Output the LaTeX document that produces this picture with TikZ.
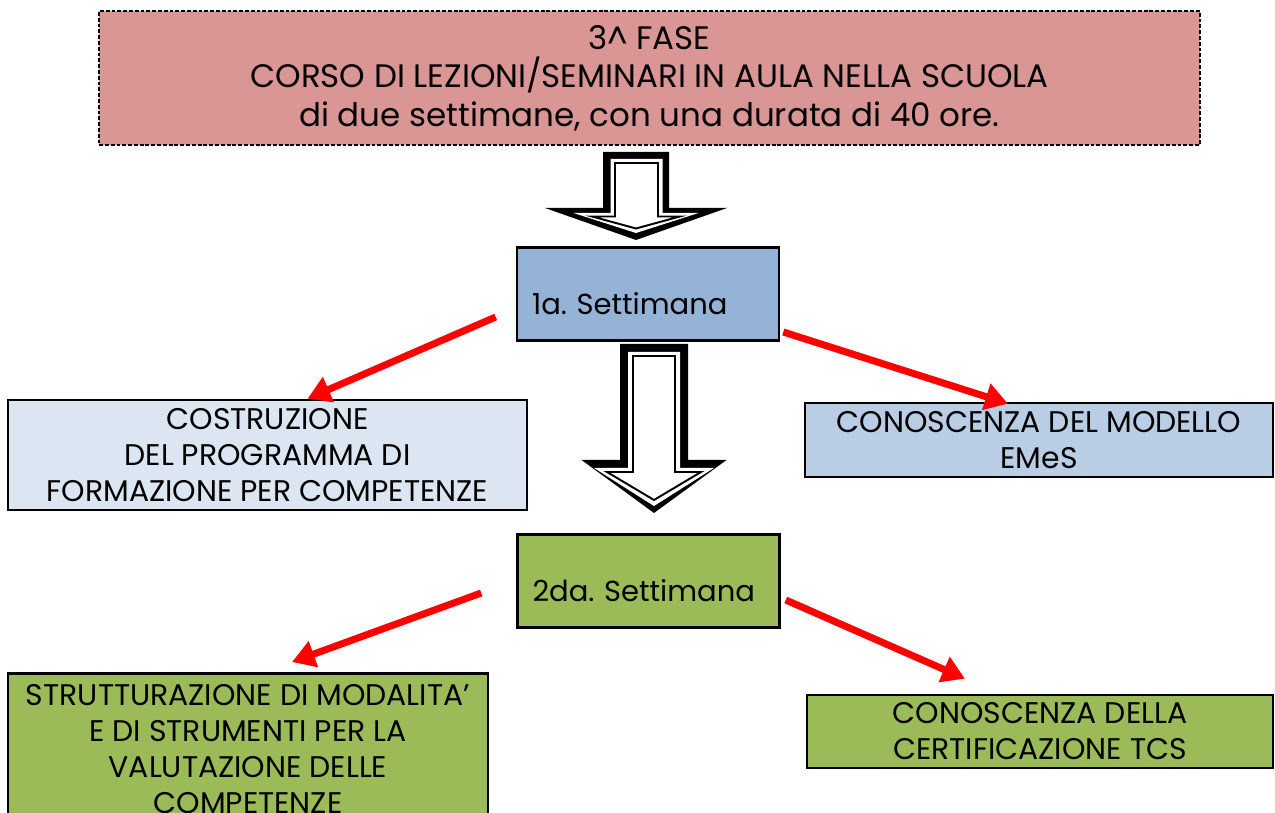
\documentclass[tikz,border=0pt]{standalone}
\usepackage{fontspec}
\setmainfont{Poppins}
\usepackage{xcolor}
\usepackage{tikz}
\usetikzlibrary{positioning, arrows.meta}
\frenchspacing

\definecolor{fasepink}{HTML}{D99694}
\definecolor{weekblue}{HTML}{95B3D7}
\definecolor{paleblue}{HTML}{DCE6F2}
\definecolor{lightblue}{HTML}{B9CDE5}
\definecolor{weekgreen}{HTML}{9BBB59}

\begin{document}
\begin{tikzpicture}[x=0.02cm, y=-0.02cm,
    fase/.style={rectangle, draw, line width=1.1pt, dash pattern=on 2.2pt off 1.1pt, fill=fasepink, minimum width=22.02cm, minimum height=2.68cm, align=center, font=\fontsize{18.5}{21.9}\selectfont},
    week/.style={rectangle, draw, line width=1.5pt, minimum height=1.86cm, text width=4.64cm, inner xsep=0.3cm, align=left, text height=0.84cm, text depth=0pt, font=\fontsize{16.5}{20.5}\selectfont},
    topic/.style={rectangle, draw, line width=1.5pt, align=center, font=\fontsize{17}{20.5}\selectfont},
    redarrow/.style={draw=red, line width=4pt, -{Triangle[length=13pt, width=15pt]}}
]

\clip (0,0) rectangle (1275,813);

\node[fase] (fase) at (649.5,78) {3\textasciicircum{} FASE\\CORSO DI LEZIONI/SEMINARI IN AULA NELLA SCUOLA\\di due settimane, con una durata di 40 ore.};

\node[week, fill=weekblue] (set1) at (648,294) {1a. Settimana};
\node[week, fill=weekgreen] (set2) at (648.5,581) {2da. Settimana};

\node[topic, fill=paleblue, minimum width=10.38cm, minimum height=2.2cm] (cost) at (267.5,455) {COSTRUZIONE\\DEL PROGRAMMA DI\\FORMAZIONE PER COMPETENZE};
\node[topic, fill=lightblue, minimum width=9.36cm, minimum height=1.48cm] (emes) at (1039,440) {CONOSCENZA DEL MODELLO\\EMeS};
\node[topic, fill=weekgreen, minimum width=9.6cm, inner ysep=0.22cm, anchor=north] (strut) at (248,672) {STRUTTURAZIONE DI MODALITA’\\E DI STRUMENTI PER LA\\VALUTAZIONE DELLE\\COMPETENZE};
\node[topic, fill=weekgreen, minimum width=9.32cm, minimum height=1.46cm] (tcs) at (1040,731.5) {CONOSCENZA DELLA\\CERTIFICAZIONE TCS};

% hollow block arrows
\fill (603,152) -- (669,152) -- (669,208) -- (727,208) -- (636,240) -- (545,208) -- (603,208) -- cycle;
\fill[white] (610.5,159) -- (662.5,159) -- (662.5,213) -- (698.5,213) -- (636,233) -- (573.5,213) -- (610.5,213) -- cycle;
\draw[line width=1.1pt, fill=white] (615,163) -- (658,163) -- (658,216.5) -- (680,216.5) -- (636,228.5) -- (592,216.5) -- (615,216.5) -- cycle;

\fill (620,344) -- (688,344) -- (688,460) -- (726.5,460) -- (654,513) -- (581.5,460) -- (620,460) -- cycle;
\fill[white] (628,352) -- (680,352) -- (680,468) -- (714,468) -- (654,506) -- (594,468) -- (628,468) -- cycle;
\draw[line width=1.1pt, fill=white] (633,356) -- (675,356) -- (675,472) -- (701,472) -- (654,500) -- (607,472) -- (633,472) -- cycle;

% red connectors
\draw[redarrow] ([shift={(-20,23)}]set1.west) -- ([shift={(40,0)}]cost.north);
\draw[redarrow] ([shift={(3,38)}]set1.east) -- ([shift={(-31,2)}]emes.north);
\draw[redarrow] ([shift={(-35,12)}]set2.west) -- ([shift={(44,-10)}]strut.north);
\draw[redarrow] ([shift={(5,19)}]set2.east) -- ([shift={(-75,-15)}]tcs.north);

\end{tikzpicture}
\end{document}
